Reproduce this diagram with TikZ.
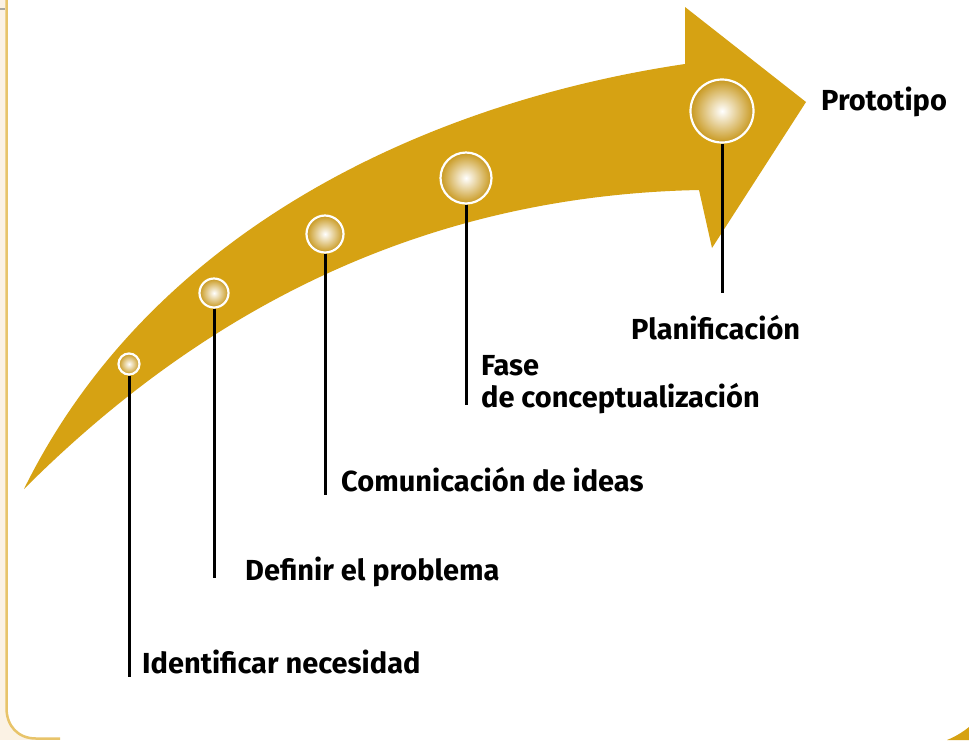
\documentclass[tikz,border=0pt]{standalone}
\usepackage{fontspec}
\setmainfont{Fira Sans}
\definecolor{arrowgold}{RGB}{214,162,19}
\definecolor{dotgold}{RGB}{200,152,30}
\definecolor{frameline}{RGB}{232,196,106}
\definecolor{cream}{RGB}{251,242,228}
\definecolor{graybar}{RGB}{170,168,160}
\tikzset{
  dot/.style={circle, inner sep=0pt, shading=radial, inner color=white, outer color=dotgold, draw=white, line width=2.2pt},
  stem/.style={line width=3pt, black},
  lbl/.style={anchor=base west, inner sep=0pt, font=\fontsize{29}{32}\selectfont\bfseries}
}
\begin{document}
\begin{tikzpicture}[x=1pt,y=-1pt]
\useasboundingbox (0,0) rectangle (969,740);
% frame
\fill[cream] (0,0) rectangle (6,740);
\fill[cream] (0,700) rectangle (40,740);
\fill[white] (6.5,0) -- (6.5,708) .. controls (6.5,726) and (18,738.5) .. (36,738.5) -- (969,738.5) -- (969,0) -- cycle;
\draw[frameline, line width=2.5pt] (6.5,0) -- (6.5,708) .. controls (6.5,726) and (18,738.5) .. (36,738.5) -- (60,738.5);
\fill[graybar] (0,7.5) rectangle (5,9.5);
\fill[arrowgold] (947,740) .. controls (957,736) and (964,731) .. (969,727) -- (969,740) -- cycle;
% arrow
\fill[arrowgold] (24,489) .. controls (154,225) and (435,101) .. (685,64)
  -- (685,7) -- (806,102) -- (712,248) -- (699,190)
  .. controls (450,195) and (224,289) .. (24,489) -- cycle;
% dots
\node[dot, minimum size=21pt] (c1) at (129,364) {};
\node[dot, minimum size=29pt] (c2) at (214,293) {};
\node[dot, minimum size=37pt] (c3) at (325,234) {};
\node[dot, minimum size=51pt] (c4) at (466,178) {};
\node[dot, minimum size=63pt] (c5) at (722,111) {};
% stem ends
\coordinate (e1) at (129,677);
\coordinate (e2) at (214,578);
\coordinate (e3) at (325,495);
\coordinate (e4) at (466,405);
\coordinate (e5) at (722,293);
\draw[stem] (c1.south) -- (e1);
\draw[stem] (c2.south) -- (e2);
\draw[stem] (c3.south) -- (e3);
\draw[stem] (c4.south) -- (e4);
\draw[stem] (c5.south) -- (e5);
% labels
\node[lbl] (l1) at (142,673) {Identificar necesidad};
\node[lbl] (l2) at (245,580) {Definir el problema};
\node[lbl] (l3) at (341,491) {Comunicación de ideas};
\node[lbl] (l4a) at (481,375) {Fase};
\node[lbl] (l4b) at (481,407) {de conceptualización};
\node[lbl] (l5) at (631,339) {Planificación};
\node[lbl] (l6) at (821,110) {Prototipo};
\end{tikzpicture}
\end{document}
